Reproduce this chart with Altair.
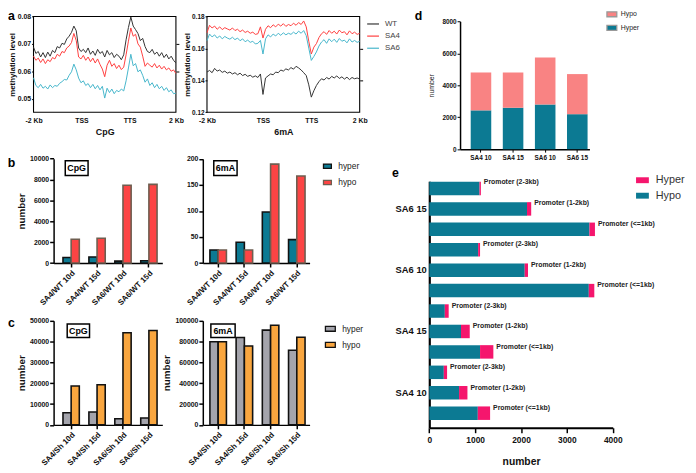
import altair as alt
import pandas as pd

# ---------------- panel a : metaplots ( -2 kb .. TSS .. TTS .. +2 kb ) ----------------
bins = list(range(61))
a_samples = ["WT", "SA4", "SA6"]
cpg_wt = [
    0.0688, 0.0665, 0.0672, 0.0652, 0.0668, 0.0650, 0.0670, 0.0655, 0.0676, 0.0668,
    0.0690, 0.0685, 0.0702, 0.0698, 0.0718, 0.0728, 0.0742, 0.0765, 0.0748, 0.0685,
    0.0672, 0.0680, 0.0668, 0.0685, 0.0662, 0.0674, 0.0658, 0.0680, 0.0665, 0.0672,
    0.0652, 0.0676, 0.0660, 0.0668, 0.0650, 0.0662, 0.0655, 0.0642, 0.0660, 0.0715,
    0.0760, 0.0798, 0.0765, 0.0752, 0.0738, 0.0712, 0.0720, 0.0690, 0.0672, 0.0668,
    0.0680, 0.0662, 0.0670, 0.0655, 0.0668, 0.0650, 0.0662, 0.0645, 0.0655, 0.0640,
    0.0630]
cpg_sa4 = [
    0.0655, 0.0640, 0.0648, 0.0632, 0.0645, 0.0628, 0.0642, 0.0635, 0.0650, 0.0645,
    0.0662, 0.0655, 0.0672, 0.0668, 0.0685, 0.0692, 0.0705, 0.0738, 0.0712, 0.0652,
    0.0645, 0.0658, 0.0640, 0.0652, 0.0635, 0.0648, 0.0630, 0.0645, 0.0625, 0.0608,
    0.0580, 0.0622, 0.0640, 0.0618, 0.0628, 0.0610, 0.0622, 0.0606, 0.0615, 0.0660,
    0.0710, 0.0758, 0.0728, 0.0735, 0.0700, 0.0688, 0.0655, 0.0618, 0.0630, 0.0622,
    0.0615, 0.0628, 0.0612, 0.0622, 0.0608, 0.0618, 0.0605, 0.0612, 0.0600, 0.0605,
    0.0592]
cpg_sa6 = [
    0.0576, 0.0548, 0.0540, 0.0552, 0.0538, 0.0545, 0.0535, 0.0550, 0.0540, 0.0548,
    0.0545, 0.0556, 0.0562, 0.0570, 0.0568, 0.0585, 0.0598, 0.0626, 0.0605, 0.0575,
    0.0558, 0.0565, 0.0548, 0.0555, 0.0540, 0.0552, 0.0536, 0.0548, 0.0532, 0.0545,
    0.0502, 0.0538, 0.0522, 0.0535, 0.0518, 0.0530, 0.0525, 0.0535, 0.0528, 0.0565,
    0.0612, 0.0662, 0.0620, 0.0628, 0.0598, 0.0605, 0.0585, 0.0560, 0.0572, 0.0548,
    0.0558, 0.0540, 0.0552, 0.0536, 0.0545, 0.0530, 0.0540, 0.0525, 0.0532, 0.0518,
    0.0520]
m6a_wt = [
    0.1452, 0.1462, 0.1448, 0.1475, 0.1458, 0.1465, 0.1450, 0.1458, 0.1445, 0.1452,
    0.1440, 0.1448, 0.1435, 0.1445, 0.1430, 0.1438, 0.1425, 0.1432, 0.1420, 0.1428,
    0.1418, 0.1440, 0.1312, 0.1415, 0.1428, 0.1440, 0.1435, 0.1452, 0.1448, 0.1465,
    0.1458, 0.1472, 0.1465, 0.1480, 0.1470, 0.1488, 0.1478, 0.1465, 0.1448, 0.1430,
    0.1372, 0.1295, 0.1335, 0.1368, 0.1392, 0.1410, 0.1402, 0.1418, 0.1408, 0.1425,
    0.1415, 0.1428, 0.1412, 0.1422, 0.1408, 0.1420, 0.1405, 0.1418, 0.1410, 0.1415,
    0.1408]
m6a_sa4 = [
    0.1698, 0.1745, 0.1728, 0.1740, 0.1720, 0.1735, 0.1718, 0.1730, 0.1722, 0.1715,
    0.1728, 0.1712, 0.1720, 0.1705, 0.1715, 0.1700, 0.1708, 0.1695, 0.1702, 0.1688,
    0.1692, 0.1735, 0.1665, 0.1720, 0.1742, 0.1730, 0.1748, 0.1735, 0.1752, 0.1740,
    0.1755, 0.1738, 0.1750, 0.1742, 0.1758, 0.1745, 0.1762, 0.1750, 0.1772, 0.1735,
    0.1645, 0.1565, 0.1608, 0.1630, 0.1668, 0.1692, 0.1705, 0.1688, 0.1712, 0.1695,
    0.1708, 0.1690, 0.1715, 0.1698, 0.1705, 0.1685, 0.1710, 0.1692, 0.1702, 0.1688,
    0.1695]
m6a_sa6 = [
    0.1648, 0.1690, 0.1672, 0.1685, 0.1665, 0.1678, 0.1660, 0.1675, 0.1665, 0.1658,
    0.1670, 0.1655, 0.1665, 0.1648, 0.1660, 0.1642, 0.1652, 0.1638, 0.1645, 0.1628,
    0.1632, 0.1650, 0.1565, 0.1660, 0.1685, 0.1672, 0.1690, 0.1678, 0.1695, 0.1682,
    0.1698, 0.1685, 0.1695, 0.1688, 0.1702, 0.1690, 0.1708, 0.1695, 0.1712, 0.1680,
    0.1602, 0.1525, 0.1550, 0.1578, 0.1615, 0.1640, 0.1655, 0.1632, 0.1660, 0.1642,
    0.1658, 0.1638, 0.1662, 0.1645, 0.1652, 0.1635, 0.1660, 0.1640, 0.1650, 0.1638,
    0.1645]

# ---------------- panel b : vs WT ----------------
kinds = ["hyper", "hypo"]
b_groups = ["SA4/WT 10d", "SA4/WT 15d", "SA6/WT 10d", "SA6/WT 15d"]
b_cpg_hyper = [525, 585, 185, 215]
b_cpg_hypo = [2275, 2370, 7450, 7540]
b_6ma_hyper = [25, 40, 98, 45]
b_6ma_hypo = [25, 25, 190, 167]

# ---------------- panel c : vs Sh ----------------
c_groups = ["SA4/Sh 10d", "SA4/Sh 15d", "SA6/Sh 10d", "SA6/Sh 15d"]
c_cpg_hyper = [5800, 6200, 2950, 3260]
c_cpg_hypo = [18650, 19250, 44250, 45300]
c_6ma_hyper = [79800, 83900, 91000, 71700]
c_6ma_hypo = [79800, 75800, 95600, 84100]

# ---------------- panel d ----------------
d_groups = ["SA4 10", "SA4 15", "SA6 10", "SA6 15"]
d_hyper = [2430, 2590, 2790, 2190]
d_hypo = [2370, 2210, 2940, 2510]

# ---------------- panel e ----------------
e_samples = ["SA6 15", "SA6 10", "SA4 15", "SA4 10"]
e_regions = ["Promoter (2-3kb)", "Promoter (1-2kb)", "Promoter (<=1kb)"]
e_hypo = [1095, 2131, 3492, 1065, 2081, 3478, 339, 691, 1107, 317, 649, 1058]
e_hyper = [30, 91, 120, 42, 71, 120, 84, 191, 290, 71, 183, 268]

# ---------------- styling ----------------
FONT = "Liberation Sans"
TEAL = "#0c7a93"
RED_B = "#fc4444"
PINK_D = "#f98383"
PINK_E = "#f5166d"
GRAY_C = "#a4a4ac"
ORANGE_C = "#f9a63f"
A_COLORS = ["#333333", "#ff3f3f", "#46b6cb"]

W, H = 690, 468


def X(r):
    return 0.985 * r - 1


def Y(r):
    return 0.985 * r - 3


one = pd.DataFrame({"k": [0]})


def rect_path(ratio):
    return f"M-1,-{ratio}H1V{ratio}H-1Z"


# ---------------- panel a builder ----------------
def meta_df(wt, sa4, sa6):
    n = len(bins)
    return pd.DataFrame({"bin": bins * 3, "level": wt + sa4 + sa6,
                         "sample": ["WT"] * n + ["SA4"] * n + ["SA6"] * n})


def panel_a(df, x0, x1, ylo, yhi, yticks, rticks, xticks, xtitle, ylab, ttl_pad, legend):
    def xs():
        return alt.Scale(domain=[0, 60], range=[X(x0), X(x1)], nice=False, zero=False)

    def ys():
        return alt.Scale(domain=[ylo, yhi], range=[Y(107), Y(8.3)], nice=False, zero=False)

    frame = alt.Chart(one).mark_rect(fill="white", fillOpacity=0, stroke="black", strokeWidth=1.1).encode(
        x=alt.XDatum(0, scale=xs(), axis=None), x2=alt.X2Datum(60),
        y=alt.YDatum(ylo, scale=ys(), axis=alt.Axis(
            orient="right", offset=X(x1) - W, values=rticks, labels=False, domain=False,
            tickSize=3, title=None)),
        y2=alt.Y2Datum(yhi))
    lines = alt.Chart(df).mark_line(strokeWidth=1).encode(
        x=alt.X("bin:Q", scale=xs(), axis=alt.Axis(
            orient="bottom", offset=Y(107) - H, values=xticks,
            labelExpr="datum.value < 1 ? '-2 Kb' : datum.value > 59 ? '2 Kb' : datum.value < 30 ? 'TSS' : 'TTS'",
            ticks=False, domain=False, labelFlush=False, labelOverlap=False,
            labelFontSize=7, labelFontWeight="bold", labelPadding=4,
            title=xtitle, titleFontSize=9, titleFontWeight="bold", titlePadding=5)),
        y=alt.Y("level:Q", scale=ys(), axis=alt.Axis(
            orient="left", offset=-X(x0), values=yticks, format=".2f",
            tickSize=2, domain=False, labelFontSize=ylab, labelFontWeight="bold", labelPadding=1,
            title="methylation level", titleFontSize=8, titleFontWeight="bold", titlePadding=ttl_pad)),
        color=alt.Color("sample:N", scale=alt.Scale(domain=a_samples, range=A_COLORS), legend=legend),
    )
    return [frame, lines]


a_legend = alt.Legend(orient="none", legendX=X(370), legendY=Y(15) - 6, title=None,
                      symbolType="stroke", symbolSize=144, symbolStrokeWidth=1.2,
                      labelFontSize=8, labelColor="#444", labelOffset=5, rowPadding=1.3, padding=0)

pa1 = panel_a(meta_df(cpg_wt, cpg_sa4, cpg_sa6), 27.3, 174, 0.045, 0.08,
              [0.05, 0.06, 0.07, 0.08], [0.06, 0.07], [0, 20.2, 40.5, 60], "CpG", 7, 0.5, None)
pa2 = panel_a(meta_df(m6a_wt, m6a_sa4, m6a_sa6), 206, 363.3, 0.12, 0.18,
              [0.12, 0.14, 0.16, 0.18], [0.14, 0.16], [0, 22, 41, 60], "6mA", 6.5, 0, a_legend)


# ---------------- grouped bars builder (b, c) ----------------
def grouped(groups, hyper, hypo, colors, strokes, ax0, ax1, p_o, align,
            ybot, ytop, ymax, ystep, ytitle, legend):
    df = pd.DataFrame({"group": groups * 2, "kind": ["hyper"] * 4 + ["hypo"] * 4,
                       "count": hyper + hypo})
    xs = alt.Scale(domain=groups, range=[X(ax0), X(ax1)], paddingInner=0.37,
                   paddingOuter=p_o, align=align)
    ys = alt.Scale(domain=[0, ymax], range=[Y(ybot), Y(ytop)], nice=False)
    return alt.Chart(df).mark_bar(strokeWidth=1.6).encode(
        x=alt.X("group:N", scale=xs, axis=alt.Axis(
            orient="bottom", offset=Y(ybot) - H, labelAngle=-45, labelFontSize=8,
            labelFontWeight="bold", labelPadding=2, tickSize=4, tickWidth=1.5,
            domainWidth=1.5, title=None)),
        xOffset=alt.XOffset("kind:N", scale=alt.Scale(domain=kinds)),
        y=alt.Y("count:Q", scale=ys, axis=alt.Axis(
            orient="left", offset=-X(ax0), values=list(range(0, ymax + 1, ystep)), format="d",
            tickSize=4, tickWidth=1.5, domainWidth=1.5, labelFontSize=7, labelFontWeight="bold",
            labelPadding=1, title=ytitle, titleFontSize=10, titleFontWeight="bold", titlePadding=3)),
        color=alt.Color("kind:N", scale=alt.Scale(domain=kinds, range=colors), legend=legend),
        stroke=alt.Stroke("kind:N", scale=alt.Scale(domain=kinds, range=strokes), legend=None),
    )


def bar_legend(lx, ly, ratio, size, rowpad, offset, fsize, stroke):
    return alt.Legend(orient="none", legendX=lx, legendY=ly, title=None,
                      symbolType=rect_path(ratio), symbolSize=size,
                      symbolStrokeColor=stroke, symbolStrokeWidth=1.3,
                      labelFontSize=fsize, labelColor="#222", labelOffset=offset,
                      rowPadding=rowpad, padding=0)


b_leg = bar_legend(X(325), Y(162) - 4.5, 0.55, 64, 6.5, 6, 8.5, "#222")
c_leg = bar_legend(X(327), Y(329) - 5, 0.5, 100, 4.3, 6, 8.5, "#222")

pb1 = grouped(b_groups, b_cpg_hyper, b_cpg_hypo, [TEAL, RED_B], ["#111111", "#6e5e50"],
              48, 160, 0.2825, 0.64, 262.3, 154.8, 10000, 2000, "number", None)
pb2 = grouped(b_groups, b_6ma_hyper, b_6ma_hypo, [TEAL, RED_B], ["#111111", "#6e5e50"],
              201.7, 311.7, 0.222, 0.61, 262.3, 155, 200, 50, None, b_leg)
pc1 = grouped(c_groups, c_cpg_hyper, c_cpg_hypo, [GRAY_C, ORANGE_C], ["#111111", "#111111"],
              48, 160, 0.2825, 0.64, 429, 321.7, 50000, 10000, "number", None)
pc2 = grouped(c_groups, c_6ma_hyper, c_6ma_hypo, [GRAY_C, ORANGE_C], ["#111111", "#111111"],
              201.7, 311.7, 0.222, 0.61, 429, 321.7, 100000, 20000, "number", c_leg)

# ---------------- panel d ----------------
dfd = pd.DataFrame({"sample": d_groups * 2, "kind": ["Hyper"] * 4 + ["Hypo"] * 4,
                    "count": d_hyper + d_hypo, "stack_order": [0] * 4 + [1] * 4})
d_leg = bar_legend(X(617), Y(5) - 5, 0.5, 100, 1.8, 3, 7, "#999999")
pd_ = alt.Chart(dfd).mark_bar().encode(
    x=alt.X("sample:N", scale=alt.Scale(domain=d_groups, range=[X(466.7), X(600)], paddingInner=0.36,
                                         paddingOuter=0.195, align=0.85),
            axis=alt.Axis(orient="bottom", offset=Y(145) - H, labelAngle=0, labelFontSize=6.5,
                          labelFontWeight="bold", labelPadding=2, tickSize=3, domainWidth=1.5,
                          title=None)),
    y=alt.Y("count:Q", stack="zero",
            scale=alt.Scale(domain=[0, 8000], range=[Y(145), Y(13.3)], nice=False),
            axis=alt.Axis(orient="left", offset=-X(466.7), values=[0, 2000, 4000, 6000, 8000],
                          format="d", tickSize=3, domainWidth=1.5, labelFontSize=6.5,
                          labelFontWeight="bold", labelPadding=1, title="number", titleFontSize=7,
                          titleFontWeight="normal", titlePadding=7)),
    color=alt.Color("kind:N", scale=alt.Scale(domain=["Hypo", "Hyper"], range=[PINK_D, TEAL]),
                    legend=d_leg),
    order=alt.Order("stack_order:Q"),
)

# ---------------- panel e ----------------
e_ids = [f"{s}|{r}" for s in e_samples for r in e_regions]
dfe = pd.DataFrame({"bar": e_ids * 2, "kind": ["Hypo"] * 12 + ["Hyper"] * 12,
                    "count": e_hypo + e_hyper, "stack_order": [0] * 12 + [1] * 12})
dfe_lab = pd.DataFrame({"bar": e_ids, "total": [a + b for a, b in zip(e_hypo, e_hyper)],
                        "region": e_regions * len(e_samples)})


def xs_e():
    return alt.Scale(domain=[0, 4000], range=[X(435), X(624)], nice=False)


def ys_e():
    return alt.Scale(domain=e_ids, range=[Y(178), Y(432)], paddingInner=0.34, paddingOuter=0.205,
                     align=0.06)


e_leg = alt.Legend(orient="none", legendX=X(648), legendY=Y(179) - 8.5, title=None,
                   symbolType=rect_path(0.46), symbolSize=169, symbolStrokeWidth=0,
                   labelFontSize=11, labelColor="#333", labelOffset=7, rowPadding=3.7, padding=0)
e_bars = alt.Chart(dfe).mark_bar().encode(
    y=alt.Y("bar:N", scale=ys_e(), axis=alt.Axis(
        orient="left", offset=-X(435), ticks=False, domainWidth=2.2, labelFontSize=9.5,
        labelFontWeight="bold", labelPadding=3,
        labelExpr="split(datum.label, '|')[1] == 'Promoter (1-2kb)' ? split(datum.label, '|')[0] : ''",
        title=None)),
    x=alt.X("count:Q", stack="zero", scale=xs_e(), axis=alt.Axis(
        orient="bottom", offset=Y(432) - H, values=[0, 1000, 2000, 3000, 4000], format="d",
        tickSize=5, tickWidth=1.5, domainWidth=2.2, labelFontSize=8.5, labelFontWeight="bold",
        labelPadding=3, labelFlush=False, title="number", titleFontSize=10.5,
        titleFontWeight="bold", titlePadding=13)),
    color=alt.Color("kind:N", scale=alt.Scale(domain=["Hyper", "Hypo"], range=[PINK_E, TEAL]),
                    legend=e_leg),
    order=alt.Order("stack_order:Q"),
)
e_text = alt.Chart(dfe_lab).mark_text(align="left", baseline="middle", dx=3, fontSize=7,
                                     fontWeight="bold", color="#222").encode(
    y=alt.Y("bar:N", scale=ys_e(), axis=None),
    x=alt.X("total:Q", scale=xs_e(), axis=None),
    text="region:N",
)


# ---------------- annotations ----------------
def label(txt, rx, ry, size):
    return alt.Chart(one).mark_text(text=txt, fontSize=size, fontWeight="bold", align="center",
                                    baseline="middle", color="black").encode(
        x=alt.value(max(X(rx), 3.5)), y=alt.value(max(Y(ry), 4.5)))


def box(rx0, rx1, ry0, ry1):
    return alt.Chart(one).mark_rect(fill="white", stroke="black", strokeWidth=1.5).encode(
        x=alt.value(X(rx0)), x2=alt.value(X(rx1)), y=alt.value(Y(ry0)), y2=alt.value(Y(ry1)))


annotations = [
    label("a", 3, 3.5, 12.5), label("b", 3, 159, 12.5), label("c", 3, 324, 12.5),
    label("d", 424, 5.5, 12.5), label("e", 400, 170, 12.5),
    box(60, 83.5, 157, 172), label("CpG", 71.7, 164.5, 9),
    box(213, 237, 157, 172), label("6mA", 225, 164.5, 9),
    box(62, 85, 325, 339), label("CpG", 73.5, 332, 9),
    box(210, 235, 325, 339), label("6mA", 222.5, 332, 9),
]

chart = alt.layer(*pa1, *pa2, pb1, pb2, pc1, pc2, pd_, e_bars, e_text, *annotations).resolve_scale(
    x="independent", y="independent", color="independent", stroke="independent",
    xOffset="independent"
).resolve_axis(x="independent", y="independent").resolve_legend(
    color="independent", stroke="independent"
).properties(
    width=W, height=H, padding=0, autosize=alt.AutoSizeParams(type="none")
).configure(font=FONT).configure_view(stroke=None).configure_axis(
    grid=False, domainColor="black", tickColor="black", labelColor="#111", titleColor="#111"
)

chart.save("out.html", embed_options={"renderer": "svg", "actions": False})
